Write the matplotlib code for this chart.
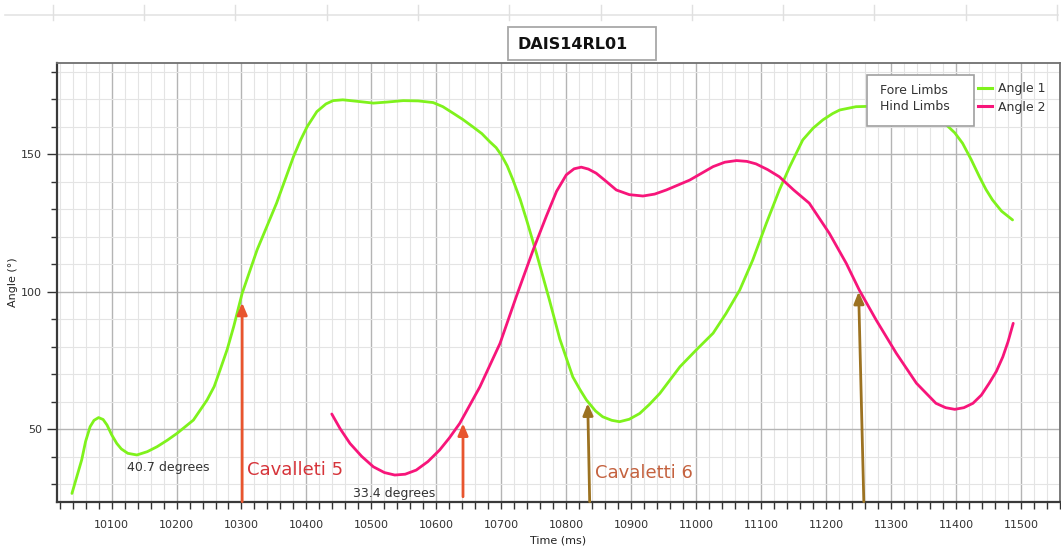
import matplotlib
matplotlib.use("Agg")
import matplotlib.pyplot as plt
from matplotlib.lines import Line2D
from matplotlib.patches import Rectangle
from matplotlib.ticker import MultipleLocator

plt.rcParams['font.family'] = ['DejaVu Sans']

# ---- data ----
angle1_time = [10039, 10054, 10060, 10067, 10073, 10080, 10087, 10093, 10100, 10108,
               10115, 10125, 10139, 10155, 10170, 10186, 10201, 10226, 10247, 10258,
               10267, 10278, 10288, 10301, 10324, 10354, 10380, 10391, 10401, 10416,
               10430, 10441, 10456, 10480, 10503, 10525, 10549, 10572, 10595, 10610,
               10626, 10641, 10656, 10670, 10682, 10692, 10700, 10709, 10718, 10729,
               10739, 10754, 10774, 10790, 10810, 10821, 10831, 10845, 10856, 10870,
               10882, 10897, 10913, 10928, 10944, 10975, 11000, 11026, 11046, 11067,
               11087, 11108, 11128, 11144, 11164, 11180, 11195, 11210, 11221, 11246,
               11280, 11320, 11355, 11385, 11398, 11410, 11423, 11436, 11446, 11456,
               11470, 11487]
angle1_value = [26.6, 38.8, 45.5, 50.9, 53.2, 54.2, 53.5, 51.5, 48.0, 44.8,
                42.8, 41.2, 40.6, 41.8, 43.6, 46.0, 48.5, 53.3, 60.6, 65.5,
                71.5, 79.0, 87.3, 99.4, 115.2, 132.2, 149.1, 155.2, 160.0, 165.5,
                168.3, 169.5, 169.8, 169.2, 168.6, 169.0, 169.5, 169.4, 168.8, 167.3,
                164.9, 162.6, 160.0, 157.5, 154.6, 152.4, 149.7, 145.8, 140.6, 133.6,
                126.0, 114.0, 97.0, 82.8, 69.0, 64.4, 60.6, 56.6, 54.5, 53.2,
                52.7, 53.6, 55.7, 59.0, 63.0, 72.7, 78.8, 84.9, 92.1, 100.6,
                111.5, 124.9, 137.0, 145.5, 155.2, 159.5, 162.5, 164.8, 166.1, 167.3,
                167.5, 167.0, 165.0, 160.7, 157.8, 154.0, 148.2, 141.8, 137.2, 133.4,
                129.3, 126.1]

angle2_time = [10439, 10452, 10467, 10485, 10503, 10520, 10536, 10552, 10569, 10587,
               10605, 10620, 10636, 10667, 10698, 10723, 10749, 10769, 10785, 10800,
               10812, 10823, 10834, 10846, 10861, 10877, 10897, 10918, 10936, 10954,
               10990, 11026, 11044, 11062, 11078, 11092, 11110, 11128, 11150, 11174,
               11205, 11231, 11251, 11277, 11308, 11339, 11369, 11384, 11398, 11412,
               11426, 11439, 11451, 11462, 11472, 11480, 11488]
angle2_value = [55.5, 50.1, 44.8, 40.1, 36.3, 34.2, 33.3, 33.6, 35.1, 38.2,
                42.4, 46.8, 52.1, 65.4, 81.2, 98.2, 115.2, 127.3, 136.5, 142.5,
                144.7, 145.3, 144.6, 143.1, 140.2, 137.0, 135.3, 134.8, 135.5, 137.0,
                140.6, 145.5, 147.1, 147.7, 147.4, 146.5, 144.4, 141.8, 137.0, 132.2,
                121.2, 110.3, 100.6, 89.7, 77.6, 66.7, 59.4, 57.8, 57.2, 57.8,
                59.4, 62.4, 66.7, 71.0, 76.3, 81.8, 88.5]

series_labels = ["Angle 1", "Angle 2"]
limb_labels = ["Fore Limbs", "Hind Limbs"]

# arrows: base and tip positions in data units
arrow_base_time = [10301, 10641, 10836, 11258]
arrow_tip_time = [10301, 10641, 10833, 11250]
arrow_tip_value = [96.0, 52.1, 59.4, 100.0]
arrow_base_value = [23.6, 25.4, 23.6, 23.6]

title = "DAIS14RL01"
xlabel = "Time (ms)"
ylabel = "Angle (°)"

# ---- figure ----
W, H = 1061, 552
fig = plt.figure(figsize=(W / 100, H / 100), dpi=100)


def fx(px):
    return px / W


def fy(py):
    return 1 - py / H


left, right, top, bottom = 57, 1060, 62.7, 501.7
ax = fig.add_axes([fx(left), fy(bottom), (right - left) / W, (bottom - top) / H])

green = "#7FF21C"
pink = "#F7157A"
red_arrow = "#E8552E"
brown_arrow = "#9C7221"

ax.plot(angle1_time, angle1_value, color=green, lw=2.0, zorder=3,
        solid_joinstyle="round", solid_capstyle="round", label=series_labels[0])
ax.plot(angle2_time, angle2_value, color=pink, lw=2.0, zorder=3,
        solid_joinstyle="round", solid_capstyle="round", label=series_labels[1])

ax.set_xlim(10016, 11560)
ax.set_ylim(23.6, 183.3)

ax.xaxis.set_major_locator(MultipleLocator(100))
ax.xaxis.set_minor_locator(MultipleLocator(20))
ax.yaxis.set_major_locator(MultipleLocator(50))
ax.yaxis.set_minor_locator(MultipleLocator(10))

ax.grid(which="major", color="#b4b4b4", lw=1.0, zorder=0)
ax.grid(which="minor", color="#e4e4e4", lw=0.8, zorder=0)
ax.set_axisbelow(True)

ax.tick_params(axis="x", which="both", direction="out", length=5, width=1, color="#333333",
               labelsize=8, labelcolor="#333333", pad=8)
ax.tick_params(axis="y", which="major", direction="out", length=7, width=1, color="#333333",
               labelsize=8, labelcolor="#333333", pad=4)
ax.tick_params(axis="y", which="minor", direction="out", length=4, width=1, color="#333333")

for s in ["left", "bottom"]:
    ax.spines[s].set_color("#3a3a3a")
    ax.spines[s].set_linewidth(1.6)
for s in ["top", "right"]:
    ax.spines[s].set_color("#707070")
    ax.spines[s].set_linewidth(1.3)

ax.set_xlabel(xlabel, fontsize=8, color="#222222", labelpad=4)
ax.set_ylabel(ylabel, fontsize=8, color="#222222", labelpad=2)

# arrows
arrow_colors = [red_arrow, red_arrow, brown_arrow, brown_arrow]
for xb, xt, yb, yt, c in zip(arrow_base_time, arrow_tip_time, arrow_base_value,
                             arrow_tip_value, arrow_colors):
    ax.annotate("", xy=(xt, yt), xytext=(xb, yb),
                arrowprops=dict(arrowstyle="-|>,head_length=0.7,head_width=0.3",
                                color=c, lw=2.0, shrinkA=0, shrinkB=0),
                zorder=4, annotation_clip=False)

# annotation texts
ax.text(10124, 36.1, "40.7 degrees", fontsize=9, color="#333333", va="center", ha="left", zorder=5)
ax.text(10308, 35.1, "Cavalleti 5", fontsize=13, color="#D6343A", va="center", ha="left", zorder=5)
ax.text(10471, 26.6, "33.4 degrees", fontsize=9, color="#333333", va="center", ha="left", zorder=5)
ax.text(10844, 34.1, "Cavaletti 6", fontsize=13, color="#C4623F", va="center", ha="left", zorder=5)

# legend: framed box with limb names, plus frameless line legend beside it
box = Rectangle((fx(866.7), fy(125.7)), (974 - 866.7) / W, (125.7 - 75) / H,
                transform=fig.transFigure, facecolor="white", edgecolor="#a0a0a0",
                lw=1.2, zorder=6, clip_on=False)
fig.add_artist(box)
fig.text(fx(880), fy(90), limb_labels[0], fontsize=9, color="#333333", va="center", ha="left", zorder=7)
fig.text(fx(880), fy(107), limb_labels[1], fontsize=9, color="#333333", va="center", ha="left", zorder=7)

handles = [Line2D([], [], color=green, lw=2.2), Line2D([], [], color=pink, lw=2.2)]
leg = ax.legend(handles, series_labels, loc="upper left", bbox_to_anchor=(fx(978), fy(82)),
                bbox_transform=fig.transFigure, frameon=False, fontsize=9,
                handlelength=1.15, handletextpad=0.45, borderpad=0, borderaxespad=0,
                labelspacing=0.45)
for t in leg.get_texts():
    t.set_color("#333333")
leg.set_zorder(8)

# title box
tbox = Rectangle((fx(508), fy(60)), (656 - 508) / W, (60 - 27.3) / H,
                 transform=fig.transFigure, facecolor="white", edgecolor="#a8a8a8",
                 lw=1.3, zorder=6, clip_on=False)
fig.add_artist(tbox)
fig.text(fx(573), fy(44.5), title, fontsize=11.5, fontweight="bold", color="#111111",
         ha="center", va="center", zorder=7)

# faint top strip
fig.add_artist(Line2D([fx(5), fx(1058)], [fy(14.7), fy(14.7)], transform=fig.transFigure,
                      color="#e4e4e4", lw=1.2))
for k in range(12):
    xp = 52.7 + k * 91.3
    fig.add_artist(Line2D([fx(xp), fx(xp)], [fy(4.7), fy(20)], transform=fig.transFigure,
                          color="#e0e0e0", lw=1.0))

fig.savefig("out.png", dpi=100)
